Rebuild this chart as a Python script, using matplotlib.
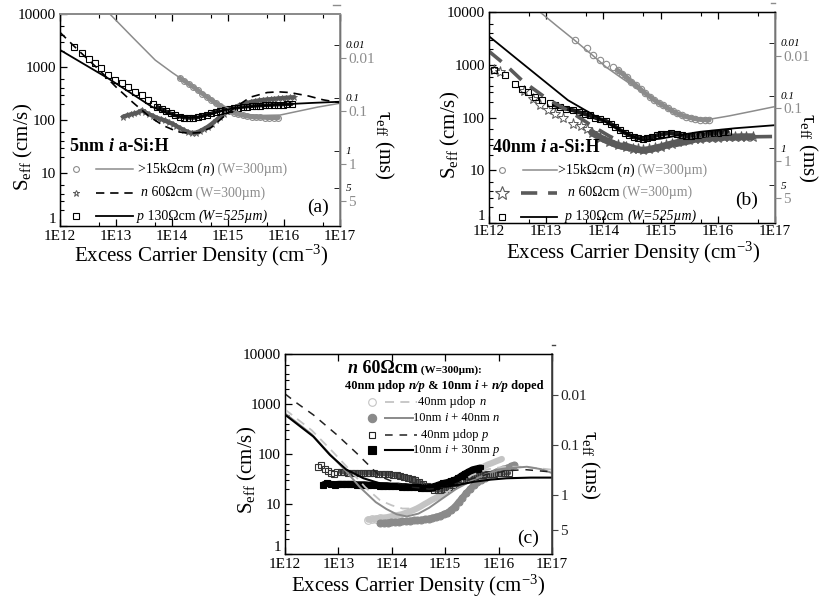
import numpy as np
import matplotlib
matplotlib.use("Agg")
import matplotlib.pyplot as plt
from matplotlib.offsetbox import TextArea, HPacker, AnnotationBbox
from matplotlib.ticker import FixedLocator, NullFormatter, LogLocator

plt.rcParams['font.family'] = ['Liberation Serif', 'DejaVu Serif']
plt.rcParams['mathtext.fontset'] = 'custom'
plt.rcParams['mathtext.rm'] = 'Liberation Serif'
plt.rcParams['mathtext.it'] = 'Liberation Serif:italic'
plt.rcParams['mathtext.bf'] = 'Liberation Serif:bold'

# ---------------- common axis data ----------------
x_ticks = [1e12, 1e13, 1e14, 1e15, 1e16, 1e17]
x_labels = ['1E12', '1E13', '1E14', '1E15', '1E16', '1E17']
y_ticks = [1, 10, 100, 1000, 10000]
y_labels = ['1', '10', '100', '1000', '10000']
tau_ticks = [0.01, 0.1, 1, 5]          # ms
tau_labels = ['0.01', '0.1', '1', '5']
W_thin = 300.0     # um
W_thick = 525.0    # um

# ---------------- panel (a): 5nm i a-Si:H  (log10 of excess carrier density) ----------------
a_hr_x = [14.14, 14.22, 14.30, 14.38, 14.46, 14.54, 14.62, 14.70, 14.78, 14.86, 14.94, 15.02, 15.10,
          15.18, 15.26, 15.34, 15.42, 15.50, 15.58, 15.66, 15.74, 15.82, 15.90]
a_hr_s = [620, 545, 480, 420, 365, 315, 275, 238, 207, 182, 162, 147, 136,
          128, 123, 118, 115, 113, 112, 111, 110, 110, 110]
a_hr_fit_x = [12.89, 13.0, 13.3, 13.7, 14.0, 14.3, 14.6, 14.9, 15.1, 15.3, 15.6, 15.93, 16.3, 16.6, 17.0]
a_hr_fit_s = [10000, 7600, 3600, 1350, 790, 480, 300, 190, 150, 128, 122, 124, 150, 175, 207]

a_n_x = [13.12, 13.19, 13.26, 13.33, 13.40, 13.46, 13.52, 13.59, 13.66, 13.73, 13.80, 13.87, 13.94,
         14.01, 14.08, 14.15, 14.22, 14.29, 14.36, 14.43, 14.50, 14.57, 14.64, 14.71, 14.78, 14.85,
         14.92, 14.99, 15.06, 15.13, 15.20, 15.27, 15.34, 15.41, 15.48, 15.55, 15.62, 15.69, 15.76,
         15.83, 15.90, 15.97, 16.04, 16.11, 16.18]
a_n_s = [115, 122, 128, 133, 140, 152, 140, 128, 120, 110, 105, 98, 90,
         85, 77, 70, 64, 59, 57, 58, 62, 68, 75, 85, 98, 112,
         128, 145, 160, 175, 190, 200, 210, 220, 228, 234, 240, 244, 248,
         252, 256, 260, 264, 267, 270]
a_n_fit_x = [12.0, 12.3, 12.7, 13.0, 13.3, 13.6, 13.85, 14.1, 14.3, 14.5, 14.7, 14.9, 15.1, 15.4,
             15.7, 15.9, 16.1, 16.43, 16.7, 17.0]
a_n_fit_s = [4500, 2200, 880, 420, 215, 115, 78, 60, 56, 58, 72, 110, 165, 270, 330, 340, 330, 285, 240, 212]

a_p_x = [12.25, 12.39, 12.51, 12.625, 12.74, 12.86, 12.98, 13.10, 13.21, 13.34, 13.46, 13.57, 13.66,
         13.74, 13.82, 13.90, 13.98, 14.06, 14.14, 14.22, 14.30, 14.38, 14.46, 14.54, 14.62, 14.70,
         14.78, 14.86, 14.94, 15.02, 15.10, 15.18, 15.26, 15.34, 15.42, 15.50, 15.58, 15.66, 15.74,
         15.82, 15.90, 15.98, 16.06, 16.14]
a_p_s = [2400, 1800, 1400, 1170, 950, 710, 570, 505, 425, 340, 295, 240, 200,
         178, 160, 145, 133, 122, 115, 111, 109, 109, 112, 118, 125, 133,
         142, 150, 157, 163, 168, 172, 176, 179, 182, 185, 187, 189, 191,
         193, 195, 196, 198, 199]
a_p_fit_x = [12.0, 12.86, 13.25, 13.64, 13.9, 14.1, 14.3, 14.5, 14.7, 14.9, 15.1, 15.4, 15.7, 16.0, 16.5, 17.0]
a_p_fit_s = [2100, 610, 330, 178, 135, 118, 112, 115, 130, 150, 167, 180, 190, 198, 210, 221]

# ---------------- panel (b): 40nm i a-Si:H ----------------
b_hr_x = [13.50, 13.71, 13.82, 13.94, 14.05, 14.17, 14.25, 14.33, 14.41, 14.49, 14.57, 14.65, 14.73,
          14.81, 14.89, 14.97, 15.05, 15.13, 15.21, 15.29, 15.37, 15.45, 15.53, 15.61, 15.69, 15.77, 15.85]
b_hr_s = [3000, 2040, 1560, 1230, 1050, 910, 790, 680, 580, 480, 410, 345, 290,
          250, 215, 190, 170, 150, 133, 120, 111, 104, 99, 95, 92, 91, 90]
b_hr_fit_x = [12.89, 13.2, 13.5, 13.8, 14.05, 14.3, 14.52, 14.8, 15.1, 15.4, 15.7, 15.9, 16.2, 16.6, 17.0]
b_hr_fit_s = [10000, 5300, 2900, 1550, 900, 580, 400, 240, 150, 108, 95, 95, 108, 132, 162]

b_n_x = [12.08, 12.19, 12.62, 12.77, 12.90, 13.03, 13.15, 13.30, 13.47, 13.60, 13.71, 13.80, 13.94,
         14.10, 14.25, 14.40, 14.52, 14.60, 14.69, 14.80, 14.90, 15.00, 15.10, 15.20, 15.30, 15.40,
         15.50, 15.60, 15.69, 15.80, 15.90, 16.00, 16.10, 16.20, 16.30, 16.40, 16.50, 16.61]
b_n_s = [790, 740, 325, 230, 175, 140, 118, 97, 76, 68, 62, 52, 42,
         35, 30, 27.5, 26, 25, 24, 25, 26.5, 28, 30, 32, 34, 36,
         37.5, 39, 40, 41, 41.5, 42, 42.5, 43, 43, 43.5, 43.5, 43.5]
b_n_fit_x = [12.0, 12.31, 12.6, 13.01, 13.47, 13.8, 14.1, 14.4, 14.7, 15.0, 15.4, 15.8, 16.3, 17.0]
b_n_fit_s = [1800, 950, 480, 230, 120, 70, 45, 31, 25, 26, 32, 39, 43, 44]

b_p_x = [12.08, 12.28, 12.45, 12.57, 12.69, 12.80, 12.92, 13.06, 13.15, 13.24, 13.35, 13.47, 13.58,
         13.68, 13.76, 13.86, 13.94, 14.05, 14.13, 14.21, 14.29, 14.37, 14.45, 14.53, 14.61, 14.69,
         14.77, 14.85, 14.93, 15.01, 15.10, 15.18, 15.28, 15.37, 15.45, 15.53, 15.61, 15.69, 15.77,
         15.85, 15.93, 16.01, 16.09, 16.17]
b_p_s = [815, 630, 430, 355, 308, 247, 220, 186, 172, 160, 148, 138, 126,
         117, 110, 100, 93, 86, 76, 67, 58, 52, 47, 43, 41, 40,
         41, 43, 46, 48, 50, 51, 50, 46, 44, 45, 46, 47, 48,
         50, 51, 52, 53, 54]
b_p_fit_x = [12.0, 12.5, 13.0, 13.38, 13.7, 14.11, 14.4, 14.69, 15.0, 15.3, 15.69, 16.3, 17.0]
b_p_fit_s = [3470, 1260, 460, 214, 135, 75, 50, 37, 40, 46, 54, 63, 72]

# ---------------- panel (c): n 60 Ohm cm, doped layers ----------------
c_un_x = [13.56, 13.63, 13.70, 13.77, 13.84, 13.91, 13.98, 14.05, 14.12, 14.19, 14.26, 14.33, 14.40,
          14.47, 14.54, 14.61, 14.68, 14.75, 14.82, 14.89, 14.96, 15.03, 15.10, 15.17, 15.24, 15.31,
          15.38, 15.45, 15.52, 15.59, 15.66, 15.73, 15.80, 15.87, 15.94, 16.01, 16.06]
c_un_s = [4.9, 5.0, 5.1, 5.2, 5.4, 5.5, 5.7, 5.9, 6.1, 6.3, 6.7, 7.1, 7.6,
          8.2, 9.0, 10, 11, 12.2, 13.3, 14.5, 16, 18, 20, 23, 26, 30,
          34, 38, 42, 47, 52, 57, 62, 66, 71, 76, 80]
c_un_fit_x = [12.0, 12.5, 12.9, 13.2, 13.5, 13.78, 14.0, 14.2, 14.4, 14.6, 14.8, 15.0, 15.2, 15.5,
              15.8, 16.1, 16.4, 16.7, 17.0]
c_un_fit_s = [780, 300, 110, 50, 22, 12, 9.5, 8.2, 8.2, 9.5, 12, 16, 24, 38, 50, 56, 56, 53, 49]

c_in_x = [13.78, 13.85, 13.92, 13.99, 14.06, 14.13, 14.20, 14.27, 14.34, 14.41, 14.48, 14.55, 14.62,
          14.69, 14.76, 14.83, 14.90, 14.97, 15.04, 15.11, 15.18, 15.25, 15.32, 15.39, 15.46, 15.53,
          15.60, 15.67, 15.74, 15.81, 15.88, 15.95, 16.02, 16.09, 16.16, 16.23, 16.28]
c_in_s = [4.2, 4.25, 4.3, 4.35, 4.4, 4.5, 4.55, 4.6, 4.7, 4.75, 4.8, 4.9, 5.0,
          5.15, 5.35, 5.6, 5.9, 6.3, 6.8, 7.7, 9.0, 11, 13.5, 16.5, 20, 24,
          28, 31, 34, 37, 41, 44, 47, 50, 53, 57, 60]
c_in_fit_x = [12.0, 12.5, 12.84, 13.15, 13.4, 13.7, 13.9, 14.09, 14.28, 14.5, 14.7, 14.9, 15.2, 15.53,
              15.85, 16.15, 16.53, 16.8, 17.0]
c_in_fit_s = [650, 250, 100, 45, 22, 11, 8, 6.3, 5.7, 6.5, 8.5, 12, 20, 31, 43, 52, 56, 50, 42]

c_up_x = [12.62, 12.68, 12.74, 12.80, 12.86, 12.92, 12.97, 13.04, 13.11, 13.18, 13.25, 13.32, 13.39,
          13.46, 13.53, 13.60, 13.67, 13.74, 13.81, 13.88, 13.95, 14.02, 14.09, 14.16, 14.23, 14.30,
          14.37, 14.44, 14.51, 14.58, 14.65, 14.72, 14.79, 14.86, 14.93, 15.00, 15.07, 15.14, 15.21,
          15.28, 15.35, 15.42, 15.49, 15.56, 15.63, 15.70, 15.77, 15.84, 15.91, 15.98, 16.05, 16.12, 16.19]
c_up_s = [56, 62, 50, 47, 42, 41, 45, 45, 44, 43, 43, 42, 42,
          42, 42, 42, 41.5, 41, 41, 40.5, 40, 39, 37.5, 36, 34.5, 33,
          31.5, 30, 28, 25.5, 23, 21, 19.5, 19, 19.5, 20.5, 22, 24, 26,
          28, 30, 32.5, 34.5, 36, 37.5, 38.5, 39.5, 40.5, 41, 41.5, 42, 42, 42]
c_up_fit_x = [12.0, 12.22, 12.53, 12.97, 13.34, 13.78, 14.1, 14.4, 14.7, 15.0, 15.4, 15.8, 16.2, 16.5, 16.9, 17.0]
c_up_fit_s = [1600, 1050, 610, 244, 105, 36, 26, 22, 20, 22, 30, 40, 47, 49, 45, 44]

c_ip_x = [12.72, 12.79, 12.86, 12.93, 13.00, 13.07, 13.14, 13.21, 13.28, 13.35, 13.42, 13.49, 13.56,
          13.63, 13.70, 13.77, 13.84, 13.91, 13.98, 14.05, 14.12, 14.19, 14.26, 14.33, 14.40, 14.47,
          14.54, 14.61, 14.68, 14.75, 14.82, 14.89, 14.96, 15.03, 15.10, 15.17, 15.24, 15.31, 15.38,
          15.45, 15.52, 15.59, 15.66]
c_ip_s = [24.5, 26, 25, 24.5, 25, 25, 25, 25, 25, 24.5, 24.5, 24.5, 24,
          24, 24, 23.5, 23.5, 23.5, 23, 23, 23, 22.5, 22.5, 22, 22, 22,
          21.5, 21.5, 21.5, 22, 23, 24.5, 26, 27, 28.5, 30, 33, 37, 41,
          45, 49, 51, 53]
c_ip_fit_x = [12.0, 12.53, 12.84, 13.15, 13.47, 13.78, 14.1, 14.4, 14.72, 15.03, 15.3, 15.53, 15.85, 16.15, 16.6, 17.0]
c_ip_fit_s = [615, 225, 97, 49, 33, 26, 24, 23.5, 23, 22.5, 25, 28, 31, 33, 34, 34]

# ---------------- styles ----------------
GRAY = '#8c8c8c'
DGRAY = '#5a5a5a'
LGRAY = '#c4c4c4'
MGRAY = '#8a8a8a'
TICK_FS = 11
LAB_FS = 15

def E(v):
    return 10.0 ** np.asarray(v, dtype=float)

def s_from_tau(tau_ms, W_um):
    return W_um * 0.05 / np.asarray(tau_ms, dtype=float)

fig = plt.figure(figsize=(8.19, 6.0), dpi=100)
axA = fig.add_axes([60 / 819, 1 - 226 / 600, 280 / 819, 212 / 600])
axB = fig.add_axes([489 / 819, 1 - 223.3 / 600, 286 / 819, 211.3 / 600])
axC = fig.add_axes([285 / 819, 1 - 554.3 / 600, 267 / 819, 200.3 / 600])


def setup(ax, xpad=3):
    ax.set_xscale('log')
    ax.set_yscale('log')
    ax.set_xlim(1e12, 1e17)
    ax.set_ylim(1, 10000)
    ax.xaxis.set_major_locator(FixedLocator(x_ticks))
    ax.set_xticklabels(x_labels)
    ax.xaxis.set_minor_locator(LogLocator(base=10, subs=(5.0,)))
    ax.xaxis.set_minor_formatter(NullFormatter())
    ax.yaxis.set_major_locator(FixedLocator(y_ticks))
    ax.set_yticklabels(y_labels)
    ax.yaxis.set_minor_locator(LogLocator(base=10, subs=(2.0, 3.0, 4.0, 6.0)))
    ax.yaxis.set_minor_formatter(NullFormatter())
    ax.tick_params(axis='both', which='both', direction='in', top=True, right=False,
                   labelsize=TICK_FS, pad=3)
    ax.tick_params(axis='x', which='both', pad=xpad)
    ax.tick_params(which='major', length=5, width=0.9)
    ax.tick_params(which='minor', length=3, width=0.8)
    for sp in ax.spines.values():
        sp.set_linewidth(1.0)
    # keep the lowest y label ("1") sitting just above the corner, clear of "1E12"
    for lab in ax.get_yticklabels():
        if lab.get_text() == '1':
            lab.set_verticalalignment('bottom')


def right_axis(ax, with_thick, lab_color, spine_color, top_tick_dir):
    ax2 = ax.twinx()
    ax2.set_yscale('log')
    ax2.set_ylim(ax.get_ylim())
    ax2.set_yticks(s_from_tau(tau_ticks, W_thin), labels=tau_labels)
    if with_thick:
        ax2.set_yticks(s_from_tau(tau_ticks, W_thick), labels=tau_labels, minor=True)
        for t in ax2.get_yticklabels(minor=True):
            t.set_fontstyle('italic')
        ax2.tick_params(axis='y', which='minor', direction='in', length=4, labelsize=8,
                        labelcolor='black', color='black', pad=4)
    else:
        ax2.yaxis.set_minor_locator(FixedLocator([]))
    ax2.tick_params(axis='y', which='major', direction='out', length=4, labelsize=TICK_FS,
                    labelcolor=lab_color, color=spine_color, pad=2)
    ax2.spines['right'].set_color(spine_color)
    ax2.spines['right'].set_linewidth(1.2)
    s_top = float(s_from_tau([0.001], W_thin)[0])
    if top_tick_dir != 0:
        ax2.plot([1.0, 1.0 + top_tick_dir], [s_top, s_top], transform=ax2.get_yaxis_transform(),
                 clip_on=False, color=spine_color, lw=1.0)
    return ax2


def band(ax, x, s, color, lw, z=2):
    ax.plot(E(x), s, '-', color=color, lw=lw, solid_capstyle='round', zorder=z)


def pts(ax, x, s, marker, color, ms, mew=0.8, filled=False, z=3):
    ax.plot(E(x), s, linestyle='none', marker=marker, ms=ms, mew=mew, mec=color,
            mfc=color if filled else 'none', zorder=z)


def fit(ax, x, s, color, lw, ls='-', dashes=None, z=4):
    line, = ax.plot(E(x), s, ls, color=color, lw=lw, zorder=z)
    if dashes is not None:
        line.set_dashes(dashes)


def rich(ax, x, y, parts, align=(0.0, 0.5)):
    areas = [TextArea(t, textprops=kw) for t, kw in parts]
    box = HPacker(children=areas, align='baseline', pad=0, sep=0)
    ab = AnnotationBbox(box, (x, y), xycoords='axes fraction', box_alignment=align,
                        frameon=False, pad=0, annotation_clip=False, zorder=6)
    ax.add_artist(ab)


def legend_marker(ax, x, y, marker, color, ms, filled=False, mew=0.8):
    ax.plot([x], [y], marker=marker, ms=ms, mec=color, mfc=color if filled else 'none', mew=mew,
            transform=ax.transAxes, clip_on=False, linestyle='none', zorder=6)


def legend_line(ax, x0, x1, y, color, lw, dashes=None):
    ln, = ax.plot([x0, x1], [y, y], '-', color=color, lw=lw, transform=ax.transAxes,
                  clip_on=False, zorder=6)
    if dashes is not None:
        ln.set_dashes(dashes)


def labels(ax, xl, yl, rl, xlab_pos, ylab_pos, rlab_pos):
    ax.text(xlab_pos[0], xlab_pos[1], xl, transform=ax.transAxes, ha='center', va='center',
            fontsize=LAB_FS)
    ax.text(ylab_pos[0], ylab_pos[1], yl, transform=ax.transAxes, ha='center', va='center',
            rotation=90, fontsize=LAB_FS)
    ax.text(rlab_pos[0], rlab_pos[1], rl, transform=ax.transAxes, ha='center', va='center',
            rotation=270, fontsize=LAB_FS)


XLAB = 'Excess Carrier Density (cm$^{-3}$)'
YLAB = r'S$_{\rm eff}$ (cm/s)'
RLAB = r'τ$_{\rm eff}$ (ms)'

# ================= panel (a) =================
setup(axA)
band(axA, a_hr_x, a_hr_s, GRAY, 3.2)
pts(axA, a_hr_x, a_hr_s, 'o', GRAY, 4.2)
band(axA, a_n_x, a_n_s, DGRAY, 3.0)
pts(axA, a_n_x, a_n_s, '*', DGRAY, 4.5, mew=0.6)
band(axA, a_p_x[13:], a_p_s[13:], '#1a1a1a', 2.6)
pts(axA, a_p_x, a_p_s, 's', 'black', 4.2)
fit(axA, a_hr_fit_x, a_hr_fit_s, GRAY, 1.1)
fit(axA, a_n_fit_x, a_n_fit_s, 'black', 1.2, dashes=(5, 3.5))
fit(axA, a_p_fit_x, a_p_fit_s, 'black', 1.3)
axA.spines['top'].set_color(GRAY)
axA.spines['top'].set_linewidth(1.4)
a2 = right_axis(axA, True, GRAY, GRAY, -0.025)
a2.spines['top'].set_color(GRAY)
a2.spines['top'].set_linewidth(1.4)
labels(axA, XLAB, YLAB, RLAB, (0.504, -0.142), (-0.13, 0.373), (1.154, 0.382))

rich(axA, 0.036, 0.373, [('5nm ', dict(fontsize=13, fontweight='bold')),
                         ('i', dict(fontsize=13, fontweight='bold', fontstyle='italic')),
                         (' a-Si:H', dict(fontsize=13, fontweight='bold'))])
legend_marker(axA, 0.057, 0.269, 'o', GRAY, 4.2)
legend_line(axA, 0.129, 0.261, 0.269, GRAY, 1.1)
rich(axA, 0.279, 0.269, [('>15kΩcm (', dict(fontsize=10)), ('n', dict(fontsize=10, fontstyle='italic')),
                         (')', dict(fontsize=10)), (' (W=300µm)', dict(fontsize=10, color=GRAY))])
legend_marker(axA, 0.057, 0.156, '*', DGRAY, 5, mew=0.7)
legend_line(axA, 0.129, 0.261, 0.156, 'black', 1.2, dashes=(5, 3.5))
rich(axA, 0.289, 0.156, [('n', dict(fontsize=10, fontstyle='italic')), (' 60Ωcm', dict(fontsize=10)),
                         (' (W=300µm)', dict(fontsize=10, color=GRAY))])
legend_marker(axA, 0.057, 0.047, 's', 'black', 4.2)
legend_line(axA, 0.129, 0.261, 0.047, 'black', 1.3)
rich(axA, 0.275, 0.047, [('p', dict(fontsize=10, fontstyle='italic')), (' 130Ωcm ', dict(fontsize=10)),
                         ('(W=525µm)', dict(fontsize=10, fontstyle='italic'))])
axA.text(0.92, 0.09, '(a)', transform=axA.transAxes, ha='center', va='center', fontsize=14)

# ================= panel (b) =================
setup(axB, xpad=1.5)
band(axB, b_hr_x[6:], b_hr_s[6:], GRAY, 3.4)
pts(axB, b_hr_x, b_hr_s, 'o', GRAY, 4.6)
band(axB, b_n_x[11:], b_n_s[11:], DGRAY, 5.0)
pts(axB, b_n_x, b_n_s, '*', DGRAY, 8, mew=0.7)
band(axB, b_p_x[8:], b_p_s[8:], '#1a1a1a', 3.0)
pts(axB, b_p_x, b_p_s, 's', 'black', 4.2)
fit(axB, b_hr_fit_x, b_hr_fit_s, GRAY, 1.1)
fit(axB, b_n_fit_x, b_n_fit_s, DGRAY, 2.6, dashes=(4.5, 3.0))
fit(axB, b_p_fit_x, b_p_fit_s, 'black', 1.3)
b2 = right_axis(axB, True, GRAY, GRAY, 0.0)
b2.plot([0.985, 1.0], [s_from_tau([0.001], W_thin)[0]] * 2, transform=b2.get_yaxis_transform(),
        clip_on=False, color=GRAY, lw=1.0)
labels(axB, XLAB, YLAB, RLAB, (0.503, -0.138), (-0.135, 0.418), (1.115, 0.356))

rich(axB, 0.014, 0.361, [('40nm ', dict(fontsize=13, fontweight='bold')),
                         ('i', dict(fontsize=13, fontweight='bold', fontstyle='italic')),
                         (' a-Si:H', dict(fontsize=13, fontweight='bold'))])
legend_marker(axB, 0.044, 0.252, 'o', GRAY, 4.2)
legend_line(axB, 0.119, 0.238, 0.252, GRAY, 1.1)
rich(axB, 0.241, 0.252, [('>15kΩcm (', dict(fontsize=10)), ('n', dict(fontsize=10, fontstyle='italic')),
                         (')', dict(fontsize=10)), (' (W=300µm)', dict(fontsize=10, color=GRAY))])
legend_marker(axB, 0.044, 0.145, '*', DGRAY, 10, mew=0.8)
legend_line(axB, 0.112, 0.238, 0.145, DGRAY, 2.6, dashes=(4.5, 3.0))
rich(axB, 0.276, 0.145, [('n', dict(fontsize=10, fontstyle='italic')), (' 60Ωcm', dict(fontsize=10)),
                         (' (W=300µm)', dict(fontsize=10, color=GRAY))])
legend_marker(axB, 0.044, 0.031, 's', 'black', 4.2)
legend_line(axB, 0.112, 0.238, 0.031, 'black', 1.3)
rich(axB, 0.266, 0.031, [('p', dict(fontsize=10, fontstyle='italic')), (' 130Ωcm ', dict(fontsize=10)),
                         ('(W=525µm)', dict(fontsize=10, fontstyle='italic'))])
axB.text(0.90, 0.11, '(b)', transform=axB.transAxes, ha='center', va='center', fontsize=14)

# ================= panel (c) =================
setup(axC)
band(axC, c_un_x, c_un_s, LGRAY, 4.5)
pts(axC, c_un_x[:4], c_un_s[:4], 'o', LGRAY, 5.5)
band(axC, c_in_x, c_in_s, MGRAY, 4.5)
pts(axC, c_in_x, c_in_s, 'o', MGRAY, 5, filled=True)
band(axC, c_up_x[7:], c_up_s[7:], '#555555', 3.5)
pts(axC, c_up_x, c_up_s, 's', '#333333', 4.5)
band(axC, c_ip_x, c_ip_s, 'black', 5.0)
pts(axC, c_ip_x, c_ip_s, 's', 'black', 5, filled=True)
fit(axC, c_un_fit_x, c_un_fit_s, LGRAY, 1.3, dashes=(5, 3.5))
fit(axC, c_in_fit_x, c_in_fit_s, MGRAY, 1.4)
fit(axC, c_up_fit_x, c_up_fit_s, '#222222', 1.1, dashes=(5, 4.5))
fit(axC, c_ip_fit_x, c_ip_fit_s, 'black', 1.5)
c2 = right_axis(axC, False, '#222222', '#444444', 0.012)
labels(axC, XLAB, YLAB, RLAB, (0.5, -0.158), (-0.14, 0.42), (1.142, 0.446))

rich(axC, 0.236, 0.93, [('n', dict(fontsize=13, fontweight='bold', fontstyle='italic')),
                        (' 60Ωcm', dict(fontsize=13, fontweight='bold')),
                        (' (W=300µm):', dict(fontsize=8, fontweight='bold'))])
rich(axC, 0.225, 0.84, [('40nm µdop ', dict(fontsize=9, fontweight='bold')),
                        ('n/p', dict(fontsize=9, fontweight='bold', fontstyle='italic')),
                        (' & 10nm ', dict(fontsize=9, fontweight='bold')),
                        ('i', dict(fontsize=9, fontweight='bold', fontstyle='italic')),
                        (' + ', dict(fontsize=9, fontweight='bold')),
                        ('n/p', dict(fontsize=9, fontweight='bold', fontstyle='italic')),
                        (' doped', dict(fontsize=9, fontweight='bold'))])
legend_marker(axC, 0.325, 0.762, 'o', LGRAY, 5.5)
legend_line(axC, 0.375, 0.494, 0.762, LGRAY, 1.3, dashes=(5, 3.5))
rich(axC, 0.50, 0.762, [('40nm µdop ', dict(fontsize=9)), ('n', dict(fontsize=9, fontstyle='italic'))])
legend_marker(axC, 0.325, 0.679, 'o', MGRAY, 6, filled=True)
legend_line(axC, 0.375, 0.479, 0.679, MGRAY, 1.4)
rich(axC, 0.479, 0.679, [('10nm ', dict(fontsize=9)), ('i', dict(fontsize=9, fontstyle='italic')),
                         (' + 40nm ', dict(fontsize=9)), ('n', dict(fontsize=9, fontstyle='italic'))])
legend_marker(axC, 0.325, 0.596, 's', '#222222', 5)
legend_line(axC, 0.375, 0.494, 0.596, '#222222', 1.1, dashes=(5, 4.5))
rich(axC, 0.51, 0.596, [('40nm µdop ', dict(fontsize=9)), ('p', dict(fontsize=9, fontstyle='italic'))])
legend_marker(axC, 0.325, 0.521, 's', 'black', 6, filled=True)
legend_line(axC, 0.375, 0.479, 0.521, 'black', 1.5)
rich(axC, 0.479, 0.521, [('10nm ', dict(fontsize=9)), ('i', dict(fontsize=9, fontstyle='italic')),
                         (' + 30nm ', dict(fontsize=9)), ('p', dict(fontsize=9, fontstyle='italic'))])
axC.text(0.911, 0.08, '(c)', transform=axC.transAxes, ha='center', va='center', fontsize=14)

fig.savefig('out.png', dpi=100)
